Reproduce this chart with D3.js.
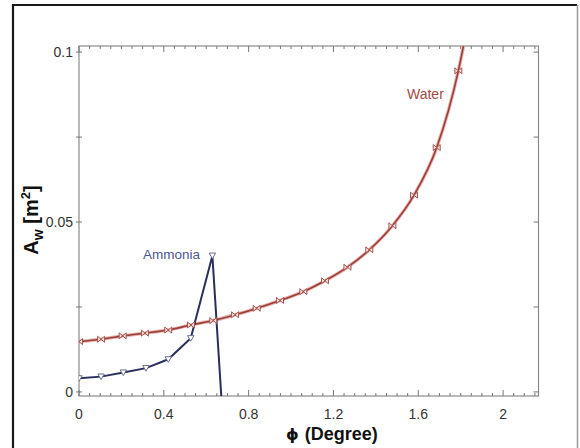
<!DOCTYPE html>
<html>
<head>
<meta charset="utf-8">
<script src="https://cdn.jsdelivr.net/npm/d3@7"></script>
<style>
  body { margin: 0; background: #fff; }
  text { font-family: 'Liberation Sans', Arial, sans-serif; }
</style>
</head>
<body>
<div id="chart"></div>
<script>
// water curve (markers + end of line above the frame)
var waterX = [0.0, 0.104, 0.206, 0.311, 0.421, 0.528, 0.633, 0.736, 0.838, 0.948, 1.058, 1.16, 1.266, 1.369, 1.478, 1.58, 1.687, 1.789, 1.84];
var waterY = [0.0148, 0.0155, 0.0165, 0.0173, 0.0182, 0.0197, 0.021, 0.0227, 0.0246, 0.0269, 0.0295, 0.0327, 0.0367, 0.0418, 0.0489, 0.0579, 0.0719, 0.0945, 0.1105];

// ammonia polyline, last point is where it drops out of the frame
var ammoniaX = [0.0, 0.104, 0.209, 0.316, 0.421, 0.527, 0.629, 0.671];
var ammoniaY = [0.0040, 0.0045, 0.0057, 0.0070, 0.0096, 0.0158, 0.0401, -0.0012];

var xTicks = [0, 0.4, 0.8, 1.2, 1.6, 2];
var xTickLabels = ['0', '0.4', '0.8', '1.2', '1.6', '2'];
var yTicks = [0, 0.025, 0.05, 0.075, 0.1];
var yTickLabels = ['0', '', '0.05', '', '0.1'];

var width = 580, height = 448;

var svg = d3.select('#chart').append('svg')
  .attr('width', width)
  .attr('height', height);

var x = d3.scaleLinear().domain([0, 2.167]).range([79, 538.5]);
var y = d3.scaleLinear().domain([-0.0012, 0.1018]).range([396, 46]);

// outer box: dark left/top, lighter right edge
svg.append('path')
  .attr('d', 'M13,460V5H577')
  .attr('fill', 'none')
  .attr('stroke', '#1a1a1a')
  .attr('stroke-width', 2.2);
svg.append('line')
  .attr('x1', 577.5).attr('x2', 577.5)
  .attr('y1', 5).attr('y2', 460)
  .attr('stroke', '#999')
  .attr('stroke-width', 1.5);

svg.append('clipPath').attr('id', 'clip')
  .append('rect')
  .attr('x', x.range()[0]).attr('y', y.range()[1])
  .attr('width', x.range()[1] - x.range()[0])
  .attr('height', y.range()[0] - y.range()[1]);

// frame
svg.append('rect')
  .attr('x', x.range()[0]).attr('y', y.range()[1])
  .attr('width', x.range()[1] - x.range()[0])
  .attr('height', y.range()[0] - y.range()[1])
  .attr('fill', 'none')
  .attr('stroke', '#8a8a8a')
  .attr('stroke-width', 1.2);

var minorX = d3.range(0, 2.16, 0.05);

// frame ticks, all pointing inward
var tickG = svg.append('g').attr('stroke', '#777').attr('stroke-width', 1);
minorX.forEach(function (v) {
  var major = xTicks.some(function (t) { return Math.abs(t - v) < 1e-6; });
  var len = major ? 6 : 3;
  tickG.append('line').attr('x1', x(v)).attr('x2', x(v))
    .attr('y1', y.range()[0]).attr('y2', y.range()[0] - len);
  tickG.append('line').attr('x1', x(v)).attr('x2', x(v))
    .attr('y1', y.range()[1]).attr('y2', y.range()[1] + len);
});
yTicks.forEach(function (v) {
  tickG.append('line').attr('x1', x.range()[0] - 3).attr('x2', x.range()[0] + 3)
    .attr('y1', y(v)).attr('y2', y(v));
  tickG.append('line').attr('x1', x.range()[1]).attr('x2', x.range()[1] - 5)
    .attr('y1', y(v)).attr('y2', y(v));
});

// tick labels
svg.selectAll('.xlab')
  .data(xTicks)
  .enter().append('text')
  .attr('class', 'xlab')
  .attr('x', d => x(d))
  .attr('y', 419)
  .attr('text-anchor', 'middle')
  .style('font-size', '14px')
  .style('fill', '#333')
  .text((d, i) => xTickLabels[i]);

svg.selectAll('.ylab')
  .data(yTicks)
  .enter().append('text')
  .attr('class', 'ylab')
  .attr('x', 73)
  .attr('y', d => y(d) + 5)
  .attr('text-anchor', 'end')
  .style('font-size', '14px')
  .style('fill', '#333')
  .text((d, i) => yTickLabels[i]);

// axis titles
var xt = svg.append('text')
  .attr('x', 286)
  .attr('y', 440)
  .style('font-size', '18px')
  .style('font-weight', 'bold')
  .style('fill', '#111');
xt.append('tspan').style('font-family', 'DejaVu Sans').style('font-size', '16px').text('ϕ');
xt.append('tspan').attr('dx', 6).text('(Degree)');

var yt = svg.append('text')
  .attr('transform', 'translate(38,220) rotate(-90)')
  .attr('text-anchor', 'middle')
  .style('font-size', '20px')
  .style('font-weight', 'bold')
  .style('fill', '#111');
yt.append('tspan').text('A');
yt.append('tspan').attr('dy', 5).style('font-size', '14px').text('w');
yt.append('tspan').attr('dy', -5).text(' [m');
yt.append('tspan').attr('dy', -8).style('font-size', '13px').text('2');
yt.append('tspan').attr('dy', 8).text(']');

var plot = svg.append('g').attr('clip-path', 'url(#clip)');

var water = waterX.map((v, i) => ({ x: v, y: waterY[i] }));
var ammonia = ammoniaX.map((v, i) => ({ x: v, y: ammoniaY[i] }));

var waterLine = d3.line()
  .x(d => x(d.x))
  .y(d => y(d.y))
  .curve(d3.curveMonotoneX);

var ammoniaLine = d3.line()
  .x(d => x(d.x))
  .y(d => y(d.y));

plot.append('path')
  .datum(water)
  .attr('d', waterLine)
  .attr('fill', 'none')
  .attr('stroke', '#e6b3ad')
  .attr('stroke-width', 3.5);
plot.append('path')
  .datum(water)
  .attr('d', waterLine)
  .attr('fill', 'none')
  .attr('stroke', '#9c3d37')
  .attr('stroke-width', 1.6);

plot.append('path')
  .datum(ammonia)
  .attr('d', ammoniaLine)
  .attr('fill', 'none')
  .attr('stroke', '#2a2f5e')
  .attr('stroke-width', 2);

// markers
plot.selectAll('.wm')
  .data(water.filter(d => d.y < 0.1))
  .enter().append('path')
  .attr('class', 'wm')
  .attr('transform', d => 'translate(' + x(d.x) + ',' + y(d.y) + ')')
  .attr('d', 'M-3.5,-3L3.5,3L3.5,-3L-3.5,3Z')
  .attr('fill', '#f6e2de')
  .attr('stroke', '#a85550')
  .attr('stroke-width', 1);

plot.selectAll('.am')
  .data(ammonia.filter(d => d.y > 0))
  .enter().append('path')
  .attr('class', 'am')
  .attr('transform', d => 'translate(' + x(d.x) + ',' + y(d.y) + ')')
  .attr('d', 'M-3.2,-2.6L3.2,-2.6L0,3Z')
  .attr('fill', '#fff')
  .attr('stroke', '#6a6f8e')
  .attr('stroke-width', 1);

// series labels
svg.append('text')
  .attr('x', 143)
  .attr('y', 259)
  .style('font-size', '13.5px')
  .style('fill', '#4a5790')
  .text('Ammonia');

svg.append('text')
  .attr('x', 407)
  .attr('y', 99)
  .style('font-size', '14px')
  .style('fill', '#a54a44')
  .text('Water');
</script>
</body>
</html>
